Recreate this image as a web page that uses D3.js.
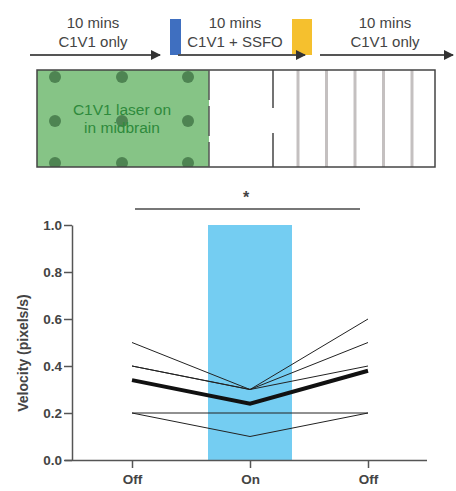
<!DOCTYPE html>
<html>
<head>
<meta charset="utf-8">
<script src="https://cdn.jsdelivr.net/npm/d3@7"></script>
<style>
body { margin: 0; background: #fff; }
svg { font-family: "Liberation Sans", Arial, sans-serif; }
</style>
</head>
<body>
<div id="plot"></div>
<script>
var width = 456;
var height = 491;

// Protocol phases (top diagram)
var phases = ["10 mins|C1V1 only", "10 mins|C1V1 + SSFO", "10 mins|C1V1 only"];
var grayBars = [1, 2, 3, 4, 5];

// Chart data
var conditions = ["Off", "On", "Off"];
var yTicks = [0, 0.2, 0.4, 0.6, 0.8, 1.0];
var laserBar = 1.0;
var animals = [
    [0.5, 0.3, 0.6],
    [0.4, 0.3, 0.5],
    [0.4, 0.3, 0.4],
    [0.2, 0.2, 0.2],
    [0.2, 0.1, 0.2]
];
var meanLine = [0.34, 0.24, 0.38];

var svg = d3.select("#plot").append("svg")
    .attr("width", width)
    .attr("height", height);

svg.append("defs").append("marker")
    .attr("id", "arrow")
    .attr("viewBox", "0 0 10 10")
    .attr("refX", 9).attr("refY", 5)
    .attr("markerWidth", 5).attr("markerHeight", 5)
    .attr("orient", "auto")
    .append("path")
    .attr("d", "M0,0L10,5L0,10z")
    .attr("fill", "#333");

/*
 TOP DIAGRAM
 --------------------- */
var arrows = [[30, 160], [178, 305], [320, 453]];

phases.forEach(function(p, i) {
    var lines = p.split("|");
    var cx = [93, 235, 385][i];
    lines.forEach(function(l, j) {
        svg.append("text")
            .attr("x", cx).attr("y", 28 + j * 19)
            .attr("text-anchor", "middle")
            .style("font-size", "15px")
            .style("fill", "#444")
            .text(l);
    });
});

// Colored light markers
svg.append("rect").attr("x", 170).attr("y", 19).attr("width", 11).attr("height", 36).attr("fill", "#3f6fc0");
svg.append("rect").attr("x", 292).attr("y", 19).attr("width", 20).attr("height", 36).attr("fill", "#f5c02e");

arrows.forEach(function(a) {
    svg.append("line")
        .attr("x1", a[0]).attr("x2", a[1])
        .attr("y1", 55).attr("y2", 55)
        .attr("stroke", "#555").attr("stroke-width", 2)
        .attr("marker-end", "url(#arrow)");
});

var boxL = 37, boxR = 435, boxT = 70, boxB = 167, greenR = 209;

svg.append("clipPath").attr("id", "greenClip")
    .append("rect").attr("x", boxL).attr("y", boxT).attr("width", greenR - boxL).attr("height", boxB - boxT);

svg.append("rect")
    .attr("x", boxL).attr("y", boxT)
    .attr("width", greenR - boxL).attr("height", boxB - boxT)
    .attr("fill", "#86c486");

var dotG = svg.append("g").attr("clip-path", "url(#greenClip)");
[55, 122, 188].forEach(function(x) {
    [77, 121, 163].forEach(function(y) {
        dotG.append("circle").attr("cx", x).attr("cy", y).attr("r", 6).attr("fill", "#4e8452");
    });
});

svg.append("text").attr("x", 122).attr("y", 115).attr("text-anchor", "middle")
    .style("font-size", "15.5px").style("fill", "#2e8a3c").text("C1V1 laser on");
svg.append("text").attr("x", 122).attr("y", 133).attr("text-anchor", "middle")
    .style("font-size", "15.5px").style("fill", "#2e8a3c").text("in midbrain");

var barX = d3.scaleLinear().domain([1, 5]).range([298, 412]);
grayBars.forEach(function(d) {
    svg.append("line")
        .attr("x1", barX(d)).attr("x2", barX(d))
        .attr("y1", boxT).attr("y2", boxB)
        .attr("stroke", "#c4c0c0").attr("stroke-width", 3);
});

svg.append("rect")
    .attr("x", boxL).attr("y", boxT)
    .attr("width", boxR - boxL).attr("height", boxB - boxT)
    .attr("fill", "none").attr("stroke", "#444").attr("stroke-width", 1.5);

svg.append("line").attr("x1", greenR).attr("x2", greenR).attr("y1", boxT).attr("y2", boxB)
    .attr("stroke", "#555").attr("stroke-width", 1.5).attr("stroke-dasharray", "30,6");
[[boxT, 108], [133, boxB]].forEach(function(s) {
    svg.append("line").attr("x1", 273).attr("x2", 273).attr("y1", s[0]).attr("y2", s[1])
        .attr("stroke", "#444").attr("stroke-width", 1.5);
});

/*
 VELOCITY CHART
 --------------------- */
var scaleX = d3.scalePoint().domain([0, 1, 2]).range([132, 368]);
var scaleY = d3.scaleLinear().domain([0, 1]).range([460, 225]);

svg.append("rect")
    .attr("x", scaleX(1) - 42)
    .attr("y", scaleY(laserBar))
    .attr("width", 84)
    .attr("height", scaleY(0) - scaleY(laserBar))
    .attr("fill", "#74cdf2");

var yAxis = svg.append("g")
    .attr("transform", "translate(72,0)")
    .call(d3.axisLeft(scaleY).tickValues(yTicks).tickFormat(d3.format(".1f")).tickSize(8).tickSizeOuter(0));

var xAxis = svg.append("g")
    .attr("transform", "translate(0,460)")
    .call(d3.axisBottom(scaleX).tickFormat(function(d) { return conditions[d]; }).tickSize(8).tickSizeOuter(0));

xAxis.select(".domain").attr("d", "M65,0.5H427");

[yAxis, xAxis].forEach(function(ax) {
    ax.selectAll("path, line").attr("stroke", "#555").attr("stroke-width", 1.5);
    ax.selectAll("text")
        .style("font-size", "13.5px")
        .style("font-weight", "bold")
        .style("fill", "#444")
        .style("font-family", "'Liberation Sans', Arial, sans-serif");
});
yAxis.selectAll("text").attr("x", -10);
xAxis.selectAll("text").attr("dy", "0.95em");

svg.append("text")
    .attr("transform", "translate(28,353) rotate(-90)")
    .attr("text-anchor", "middle")
    .style("font-size", "14px")
    .style("font-weight", "bold")
    .style("fill", "#444")
    .text("Velocity (pixels/s)");

var pathGenerator = d3.line()
    .x(function(d, i) { return scaleX(i); })
    .y(function(d) { return scaleY(d); });

svg.selectAll("path.animal").data(animals).enter().append("path")
    .attr("class", "animal")
    .attr("d", pathGenerator)
    .attr("fill", "none")
    .attr("stroke", "#222")
    .attr("stroke-width", 1);

svg.append("path")
    .attr("d", pathGenerator(meanLine))
    .attr("fill", "none")
    .attr("stroke", "#111")
    .attr("stroke-width", 4);

// Significance bar
svg.append("line")
    .attr("x1", 135).attr("x2", 360)
    .attr("y1", 209).attr("y2", 209)
    .attr("stroke", "#777").attr("stroke-width", 2);
svg.append("text")
    .attr("x", scaleX(1) - 4).attr("y", 203)
    .attr("text-anchor", "middle")
    .style("font-size", "16px")
    .style("font-weight", "bold")
    .style("fill", "#444")
    .text("*");
</script>
</body>
</html>
